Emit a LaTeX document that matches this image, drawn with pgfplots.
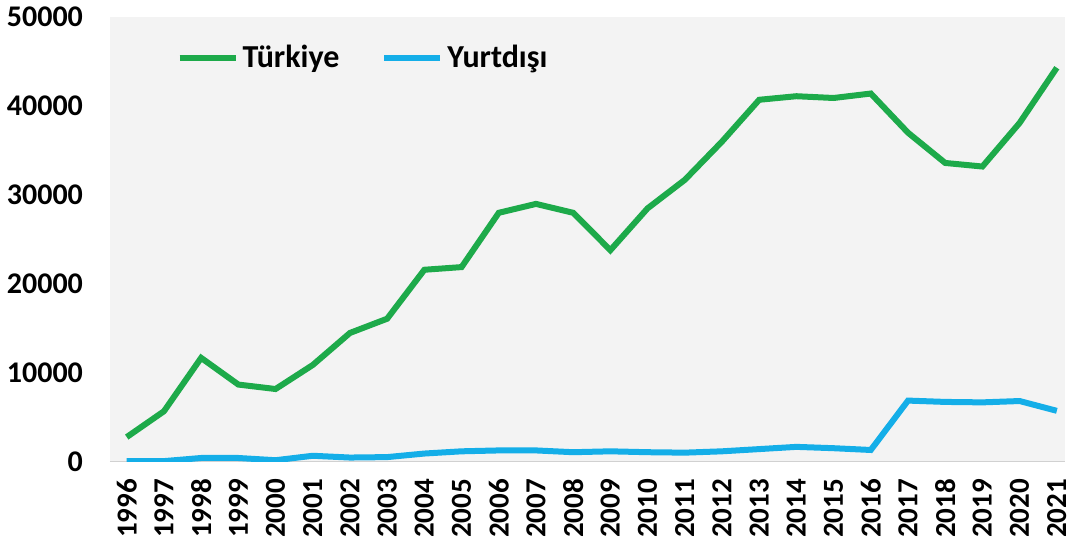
\documentclass[border=0pt]{standalone}
\usepackage{pgfplots}
\pgfplotsset{compat=1.18}
\usepackage{fontspec}
\setmainfont{Carlito}
\definecolor{cgreen}{HTML}{1DAA4A}
\definecolor{cblue}{HTML}{14AEE8}
\definecolor{bgfill}{HTML}{F3F3F3}
\begin{document}
\begin{tikzpicture}
\begin{axis}[
  scale only axis,
  width=477.5pt, height=222.5pt,
  xmin=1995.55, xmax=2021.22,
  ymin=0, ymax=50000,
  axis background/.style={fill=bgfill},
  axis line style={draw=none},
  axis x line*=bottom,
  axis y line=none,
  hide y axis=false,
  scaled ticks=false,
  xtick={1996,...,2021},
  ytick={0,10000,...,50000},
  major tick length=0pt,
  /pgf/number format/assume math mode=true,
  /pgf/number format/1000 sep={},
  xticklabel style={rotate=90, anchor=east, font=\bfseries\fontsize{14.5}{14.5}\selectfont, xshift=-5pt},
  yticklabel style={anchor=east, font=\bfseries\fontsize{15}{15}\selectfont, xshift=-10pt},
  legend columns=2,
  legend style={at={(rel axis cs:0.063,0.955)}, anchor=north west, draw=none, fill=none,
    font=\bfseries\fontsize{16}{16}\selectfont,
    /tikz/every even column/.append style={column sep=19pt}},
  legend image code/.code={\draw[#1, line width=3pt] (0pt,0pt) -- (28pt,0pt);},
  every axis plot/.append style={line width=3pt},
]
\draw[color=black!18, line width=0.8pt] (axis cs:1995.55,0) -- (axis cs:2021.22,0);
\addplot[cgreen, mark=none] coordinates {
(1996,2800) (1997,5700) (1998,11700) (1999,8700) (2000,8200) (2001,10900)
(2002,14500) (2003,16100) (2004,21600) (2005,21900) (2006,28000) (2007,29000)
(2008,28000) (2009,23800) (2010,28500) (2011,31700) (2012,36000) (2013,40700)
(2014,41100) (2015,40900) (2016,41400) (2017,37000) (2018,33600) (2019,33200)
(2020,38100) (2021,44300)
};
\addlegendentry{Türkiye}
\addplot[cblue, mark=none] coordinates {
(1996,100) (1997,100) (1998,450) (1999,450) (2000,200) (2001,700)
(2002,500) (2003,550) (2004,950) (2005,1200) (2006,1300) (2007,1300)
(2008,1100) (2009,1200) (2010,1100) (2011,1050) (2012,1200) (2013,1450)
(2014,1700) (2015,1550) (2016,1350) (2017,6900) (2018,6750) (2019,6700)
(2020,6850) (2021,5750)
};
\addlegendentry{Yurtdışı}
\end{axis}
\pgfresetboundingbox
\path (-55pt,-39pt) rectangle (480.5pt,231pt);
\end{tikzpicture}
\end{document}
